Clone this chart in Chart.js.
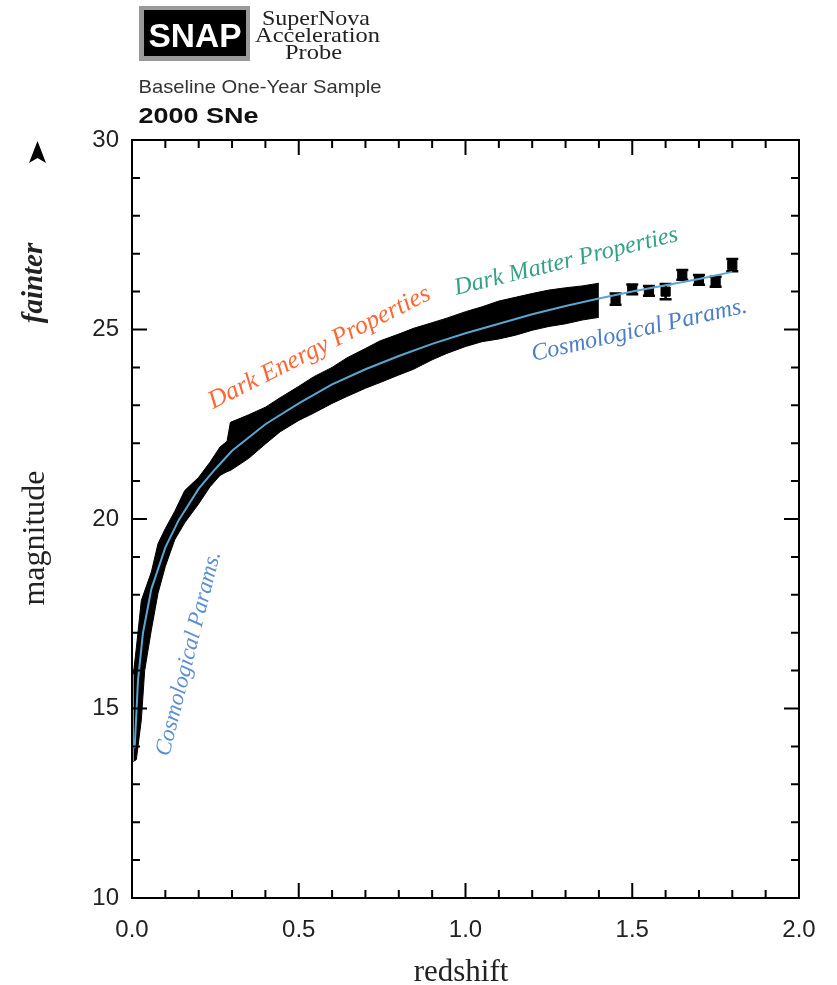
<!DOCTYPE html>
<html>
<head>
<meta charset="utf-8">
<title>SNAP - Baseline One-Year Sample</title>
<script src="https://cdn.jsdelivr.net/npm/chart.js@4.4.1/dist/chart.umd.min.js"></script>
<style>
  html, body { margin: 0; padding: 0; background: #fff; }
  #wrap { width: 837px; height: 985px; }
</style>
</head>
<body>
<div id="wrap"><canvas id="hubble" width="837" height="985"></canvas></div>
<script>
// values (redshift vs magnitude)

// the dense 2000-SN band: bright (low) and faint (high) edge incl. error bars
const bandZ    = [0.004, 0.013, 0.028, 0.038, 0.058, 0.078, 0.1, 0.128, 0.158, 0.2, 0.234, 0.264, 0.285, 0.295, 0.35, 0.4, 0.444, 0.5, 0.544, 0.6, 0.644, 0.7, 0.744, 0.8, 0.844, 0.9, 0.944, 1.0, 1.05, 1.1, 1.15, 1.2, 1.25, 1.3, 1.35, 1.4];
const bandLow  = [13.6, 13.65, 14.7, 16.0, 17.07, 18.04, 18.75, 19.45, 19.9, 20.4, 20.85, 21.15, 21.25, 21.28, 21.6, 21.98, 22.3, 22.6, 22.79, 23.05, 23.23, 23.45, 23.6, 23.8, 23.95, 24.2, 24.37, 24.55, 24.68, 24.75, 24.85, 24.98, 25.08, 25.15, 25.25, 25.32];
const bandHigh = [15.9, 16.6, 17.85, 18.1, 18.6, 19.35, 19.75, 20.2, 20.75, 21.1, 21.5, 21.9, 22.05, 22.55, 22.75, 22.95, 23.2, 23.5, 23.75, 24.0, 24.25, 24.5, 24.7, 24.88, 25.03, 25.18, 25.3, 25.47, 25.6, 25.75, 25.85, 25.95, 26.04, 26.1, 26.15, 26.22];

// model curve
const curveZ = [0.008, 0.018, 0.033, 0.058, 0.1, 0.14, 0.2, 0.25, 0.3, 0.4, 0.5, 0.6, 0.7, 0.8, 0.9, 1.0, 1.1, 1.2, 1.3, 1.4, 1.5, 1.6, 1.7, 1.8];
const curveM = [13.95, 15.75, 17.0, 18.15, 19.25, 19.97, 20.8, 21.32, 21.8, 22.5, 23.05, 23.55, 23.95, 24.3, 24.62, 24.9, 25.15, 25.4, 25.62, 25.82, 26.0, 26.17, 26.33, 26.52];

// the separate high-redshift SNe with error bars
const snZ   = [1.45, 1.50, 1.55, 1.60, 1.65, 1.70, 1.75, 1.80];
const snM   = [25.80, 26.06, 26.02, 26.0, 26.44, 26.31, 26.26, 26.70];
const snErr = [0.15, 0.13, 0.13, 0.2, 0.13, 0.13, 0.13, 0.16];

const xMajor = [0, 0.5, 1.0, 1.5, 2.0];
const yMajor = [10, 15, 20, 25, 30];

// rotated labels, baseline start/end in data units
const notes = [
  { text: "Dark Energy Properties", color: "#ff6633", from: [0.243, 22.90], to: [0.90, 25.82] },
  { text: "Dark Matter Properties", color: "#35a087", from: [0.972, 25.91], to: [1.641, 27.34] },
  { text: "Cosmological Params.", color: "#4a7ec6", from: [1.203, 24.17], to: [1.848, 25.46] },
  { text: "Cosmological Params.", color: "#5b8fd2", from: [0.111, 13.72], to: [0.265, 19.10] }
];

const SANS = '"Liberation Sans", Arial, Helvetica, sans-serif';
const SERIF = '"Liberation Serif", "Times New Roman", Times, serif';

function pts(xs, ys) {
  return xs.map((x, i) => ({ x: x, y: ys[i] }));
}

// draw text squeezed/stretched to a given width
function fitText(ctx, text, x, y, w, font, align) {
  ctx.save();
  ctx.font = font;
  const tw = ctx.measureText(text).width;
  ctx.translate(x, y);
  ctx.scale(w / tw, 1);
  ctx.textAlign = align || "left";
  ctx.textBaseline = "alphabetic";
  ctx.fillText(text, 0, 0);
  ctx.restore();
}

const decor = {
  id: "decor",
  beforeDatasetsDraw(chart) {
    const { ctx, scales: { x, y } } = chart;
    // error bars of the lone SNe
    ctx.save();
    ctx.strokeStyle = "#000";
    ctx.lineWidth = 2.5;
    snZ.forEach((z, i) => {
      const px = x.getPixelForValue(z);
      const top = y.getPixelForValue(snM[i] + snErr[i]);
      const bot = y.getPixelForValue(snM[i] - snErr[i]);
      ctx.beginPath();
      ctx.moveTo(px, top); ctx.lineTo(px, bot);
      ctx.moveTo(px - 6, top); ctx.lineTo(px + 6, top);
      ctx.moveTo(px - 6, bot); ctx.lineTo(px + 6, bot);
      ctx.stroke();
    });
    ctx.restore();
  },
  afterDatasetsDraw(chart) {
    const { ctx, chartArea: a, scales: { x, y } } = chart;
    ctx.save();
    ctx.strokeStyle = "#000";
    ctx.lineWidth = 2;
    ctx.strokeRect(a.left, a.top, a.right - a.left, a.bottom - a.top);

    // inward ticks on all four sides
    ctx.beginPath();
    for (let k = 0; k <= 20; k++) {
      const v = k / 10;
      const px = x.getPixelForValue(v);
      const len = k % 5 === 0 ? 15 : 8;
      ctx.moveTo(px, a.bottom); ctx.lineTo(px, a.bottom - len);
      ctx.moveTo(px, a.top); ctx.lineTo(px, a.top + len);
    }
    for (let m = 10; m <= 30; m++) {
      const py = y.getPixelForValue(m);
      const len = m % 5 === 0 ? 15 : 8;
      ctx.moveTo(a.left, py); ctx.lineTo(a.left + len, py);
      ctx.moveTo(a.right, py); ctx.lineTo(a.right - len, py);
    }
    ctx.stroke();
    ctx.restore();

    // rotated annotations
    notes.forEach(n => {
      const x0 = x.getPixelForValue(n.from[0]), y0 = y.getPixelForValue(n.from[1]);
      const x1 = x.getPixelForValue(n.to[0]), y1 = y.getPixelForValue(n.to[1]);
      const len = Math.hypot(x1 - x0, y1 - y0);
      const ang = Math.atan2(y1 - y0, x1 - x0);
      ctx.save();
      ctx.font = "italic 24px " + SERIF;
      const size = 24 * len / ctx.measureText(n.text).width;
      ctx.font = "italic " + size.toFixed(2) + "px " + SERIF;
      ctx.translate(x0, y0);
      ctx.rotate(ang);
      ctx.fillStyle = n.color;
      ctx.textAlign = "left";
      ctx.textBaseline = "alphabetic";
      ctx.fillText(n.text, 0, 0);
      ctx.restore();
    });
  },
  afterDraw(chart) {
    const ctx = chart.ctx;
    ctx.save();

    // SNAP logo
    ctx.fillStyle = "#999";
    ctx.fillRect(139, 6, 111, 55);
    ctx.fillStyle = "#000";
    ctx.fillRect(144, 10, 102, 46);
    ctx.fillStyle = "#fff";
    fitText(ctx, "SNAP", 148.5, 46.5, 93, "bold 33px " + SANS);

    ctx.fillStyle = "#222";
    fitText(ctx, "SuperNova", 316, 25, 108, "21px " + SERIF, "center");
    fitText(ctx, "Acceleration", 317.5, 42, 125, "21px " + SERIF, "center");
    fitText(ctx, "Probe", 313.5, 59, 57, "21px " + SERIF, "center");

    ctx.fillStyle = "#333";
    fitText(ctx, "Baseline One-Year Sample", 138.5, 93, 243, "19px " + SANS);
    ctx.fillStyle = "#111";
    fitText(ctx, "2000 SNe", 138.5, 123, 120, "bold 22px " + SANS);

    // axis titles
    ctx.fillStyle = "#222";
    ctx.textAlign = "center";
    ctx.textBaseline = "alphabetic";
    ctx.font = "31px " + SERIF;
    ctx.fillText("redshift", 461, 981);

    ctx.save();
    ctx.translate(44, 538);
    ctx.rotate(-Math.PI / 2);
    ctx.font = "32px " + SERIF;
    ctx.fillText("magnitude", 0, 0);
    ctx.restore();

    ctx.save();
    ctx.translate(42, 283);
    ctx.rotate(-Math.PI / 2);
    ctx.font = "italic bold 29px " + SERIF;
    ctx.fillText("fainter", 0, 0);
    ctx.restore();

    // "fainter" arrow head
    ctx.fillStyle = "#000";
    ctx.beginPath();
    ctx.moveTo(37.5, 141);
    ctx.lineTo(46, 163);
    ctx.lineTo(37.5, 158);
    ctx.lineTo(29, 163);
    ctx.closePath();
    ctx.fill();

    ctx.restore();
  }
};

new Chart(document.getElementById("hubble"), {
  type: "scatter",
  data: {
    datasets: [
      {
        label: "model",
        data: pts(curveZ, curveM),
        showLine: true,
        borderColor: "#5ba6d0",
        borderWidth: 2,
        pointRadius: 0,
        fill: false,
        order: 0
      },
      {
        label: "SNe z>1.4",
        data: pts(snZ, snM),
        pointStyle: "rect",
        pointRadius: 6.5,
        backgroundColor: "#000",
        borderColor: "#000",
        order: 1
      },
      {
        label: "band low",
        data: pts(bandZ, bandLow),
        showLine: true,
        borderColor: "#000",
        borderWidth: 1,
        pointRadius: 0,
        fill: false,
        order: 3
      },
      {
        label: "band high",
        data: pts(bandZ, bandHigh),
        showLine: true,
        borderColor: "#000",
        borderWidth: 1,
        pointRadius: 0,
        backgroundColor: "#000",
        fill: 2,
        order: 2
      }
    ]
  },
  options: {
    responsive: false,
    animation: false,
    devicePixelRatio: 1,
    layout: { padding: { top: 140, right: 38, bottom: 0, left: 0 } },
    plugins: {
      legend: { display: false },
      tooltip: { enabled: false }
    },
    scales: {
      x: {
        type: "linear",
        min: 0,
        max: 2,
        afterBuildTicks: s => { s.ticks = xMajor.map(v => ({ value: v })); },
        afterFit: s => { s.height = 87; },
        grid: { display: false, drawTicks: false },
        border: { display: false },
        ticks: {
          padding: 18,
          color: "#222",
          font: { family: SANS, size: 24 },
          callback: v => Number(v).toFixed(1)
        }
      },
      y: {
        type: "linear",
        min: 10,
        max: 30,
        afterBuildTicks: s => { s.ticks = yMajor.map(v => ({ value: v })); },
        afterFit: s => { s.width = 132; },
        grid: { display: false, drawTicks: false },
        border: { display: false },
        ticks: {
          padding: 13,
          color: "#222",
          font: { family: SANS, size: 24 },
          callback: v => String(v)
        }
      }
    }
  },
  plugins: [decor]
});
</script>
</body>
</html>
